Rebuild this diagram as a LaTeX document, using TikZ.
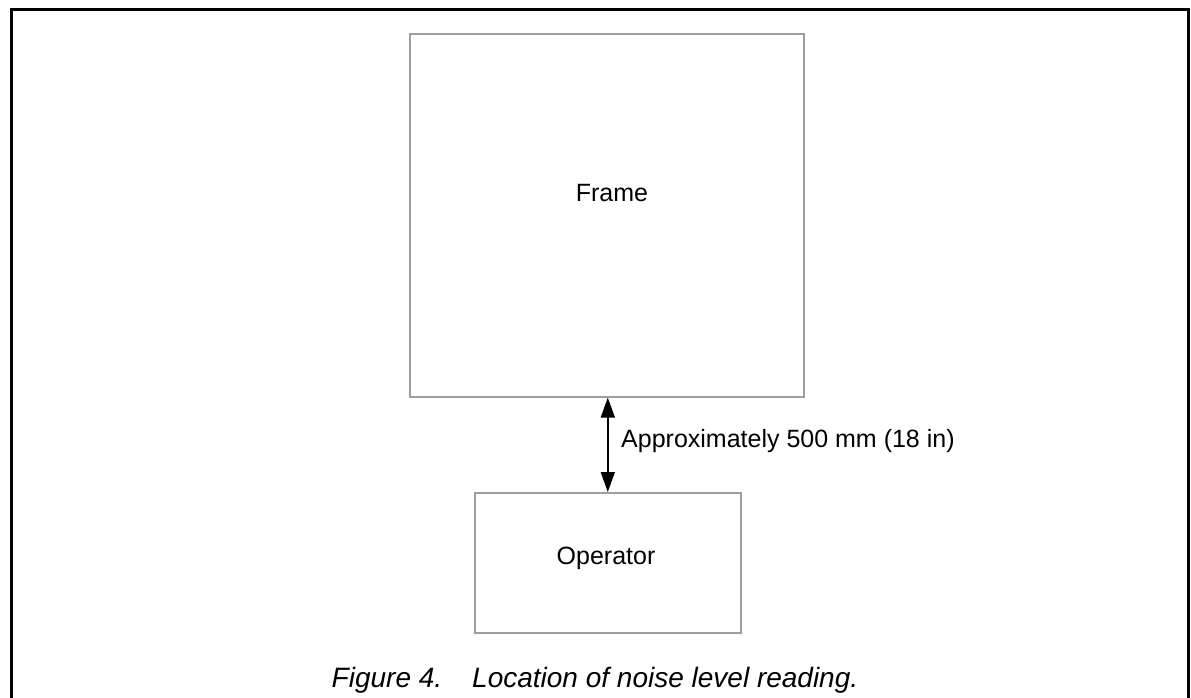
\documentclass[tikz,border=0pt]{standalone}
\usepackage{fontspec}
\setmainfont{Liberation Sans}
\usetikzlibrary{arrows.meta}
\begin{document}
\begin{tikzpicture}[x=1pt,y=-1pt,>={Triangle[length=20pt,width=14pt]},
  box/.style={draw=black!38,line width=1.6pt,inner sep=0pt,anchor=north west},
  txt/.style={font=\fontsize{25}{30}\selectfont,inner sep=0pt}]
\useasboundingbox (0,0) rectangle (1191,698);
% Outer border, open at the bottom
\draw [line width=3pt] (11,698) -- (11,9.5) -- (1188,9.5) -- (1188,698);
% Node: Frame
\node [box,minimum width=394pt,minimum height=363pt] (frame) at (409,33) {};
\node [txt] (framelabel) at (612,193) {Frame};
% Node: Operator
\node [box,minimum width=266pt,minimum height=140pt] (operator) at (474,492) {};
\node [txt] (operatorlabel) at (606,558) {Operator};
% Edge: Frame <-> Operator
\draw [<->,line width=1.6pt] (operator.north |- frame.south) -- (operator.north);
\node [txt,anchor=west] (distance) at (621,441) {Approximately 500 mm (18 in)};
% Caption
\node [txt,font=\fontsize{28}{33}\selectfont\itshape] (caption) at (595,680)
  {Figure 4.\hspace{30pt}Location of noise level reading.};
\end{tikzpicture}
\end{document}
